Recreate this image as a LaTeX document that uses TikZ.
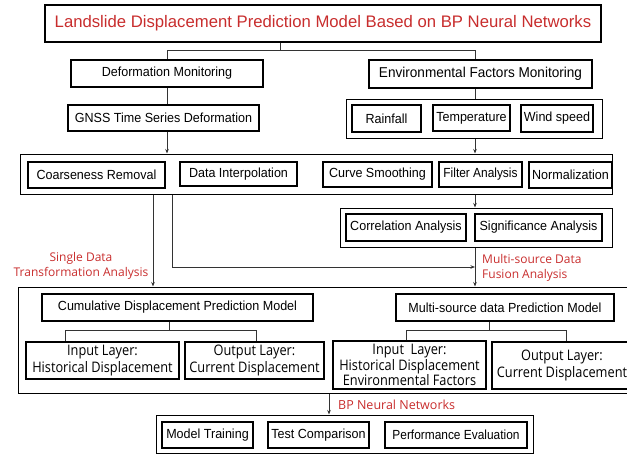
\documentclass[tikz,border=0pt]{standalone}
\usepackage{fontspec}
\usepackage{graphicx}
\setmainfont{Liberation Sans}
\newfontfamily\narrowf{Liberation Sans}[FakeStretch=0.95]
\newfontfamily\humf{Open Sans}[FakeStretch=0.88]
\newfontfamily\labf{Open Sans}
\usetikzlibrary{arrows.meta}
\definecolor{tred}{RGB}{200,45,45}
\begin{document}
\begin{tikzpicture}[x=1pt,y=-1pt,
  box/.style={draw, line width=1.3pt, inner sep=0pt, align=center, font=\narrowf\fontsize{13.2}{15}\selectfont},
  hbox/.style={draw, line width=1.3pt, inner sep=0pt, align=center, font=\humf\fontsize{14.5}{16.5}\selectfont},
  grp/.style={draw, line width=1pt},
  ln/.style={draw=black!80, line width=0.7pt},
  arr/.style={ln, -{Stealth[length=4.5pt,width=3.5pt]}},
  lbl/.style={text=tred, inner sep=0pt, font=\labf\fontsize{12}{15}\selectfont}]
\useasboundingbox (0,0) rectangle (627,455);
% group boxes
\node[grp, minimum width=256, minimum height=39] (envout) at (474,118.5) {};
\node[grp, minimum width=592, minimum height=40] (row) at (316,174) {};
\node[grp, minimum width=272, minimum height=39] (corrout) at (476,227.5) {};
\node[grp, minimum width=614, minimum height=106] (big) at (325,340) {};
\node[grp, minimum width=377, minimum height=38] (bottom) at (344.5,434) {};
% title
\node[draw, line width=1.3pt, minimum width=556, minimum height=37, text=tred, font=\fontsize{16.7}{19}\selectfont] (title) at (323,23.5) {Landslide Displacement Prediction Model Based on BP Neural Networks};
% level 1
\node[box, minimum width=192, minimum height=27] (defm) at (167,73.5) {Deformation Monitoring};
\node[box, minimum width=223, minimum height=28, font=\narrowf\fontsize{14.3}{16}\selectfont] (envm) at (480.5,74) {Environmental Factors Monitoring};
\node[box, minimum width=191, minimum height=26] (gnss) at (163.5,118) {GNSS Time Series Deformation};
\node[box, minimum width=69, minimum height=27] (rain) at (386.5,118.5) {Rainfall};
\node[box, minimum width=77, minimum height=26] (temp) at (471.5,118) {Temperature};
\node[box, minimum width=72, minimum height=27] (wind) at (557,118.5) {Wind speed};
% row
\node[box, minimum width=137, minimum height=26] (coarse) at (96.5,175) {Coarseness Removal};
\node[box, minimum width=117, minimum height=24] (interp) at (238.5,174) {Data Interpolation};
\node[box, minimum width=109, minimum height=25] (curve) at (377.5,174.5) {Curve Smoothing};
\node[box, minimum width=83, minimum height=25] (filter) at (480.5,174.5) {\scalebox{0.95}[1]{Filter Analysis}};
\node[box, minimum width=83, minimum height=26] (norm) at (570.5,175) {Normalization};
\node[box, minimum width=120, minimum height=27] (corr) at (406,227.5) {Correlation Analysis};
\node[box, minimum width=127, minimum height=27] (sig) at (538.5,227.5) {Significance Analysis};
% models
\node[box, minimum width=271, minimum height=27] (cum) at (177.5,307.5) {Cumulative Displacement Prediction Model};
\node[box, minimum width=218, minimum height=27] (msm) at (505,307.5) {Multi-source data Prediction Model};
\node[hbox, minimum width=153, minimum height=37] (in1) at (102.5,360.5) {Input Layer:\\Historical Displacement};
\node[hbox, minimum width=139, minimum height=37] (out1) at (254.5,360.5) {Output Layer:\\Current Displacement};
\node[hbox, minimum width=153, minimum height=48, font=\humf\fontsize{14.5}{14}\selectfont] (in2) at (409.5,365) {Input~ Layer:\\Historical Displacement\\Environmental Factors};
\node[hbox, minimum width=140, minimum height=47] (out2) at (562,365.5) {Output Layer:\\Current Displacement};
% bottom
\node[box, minimum width=91, minimum height=26] (train) at (207.5,435) {Model Training};
\node[box, minimum width=101, minimum height=26] (test) at (318.5,435) {Test Comparison};
\node[box, minimum width=142, minimum height=26] (perf) at (456,435) {\scalebox{0.95}[1]{Performance Evaluation}};
% coordinates
\coordinate (tj) at (280,50.5);
\coordinate (xr) at (475,0);
\coordinate (xa) at (153,0);
\coordinate (xb) at (172,267);
\coordinate (c1) at (65,330);
\coordinate (c2) at (256,330);
\coordinate (cj) at (169,330);
\coordinate (d1) at (406,330);
\coordinate (d2) at (566,330);
\coordinate (dj) at (489,330);
\coordinate (xm) at (329,0);
% connectors
\draw[ln] (title.south -| tj) -- (tj);
\draw[ln] (defm.north) -- (defm.north |- tj) -- (xr |- tj) -- (xr |- envm.north);
\draw[ln] (defm.south) -- (defm.south |- gnss.north);
\draw[ln] (xr |- envm.south) -- (xr |- envout.north);
\draw[arr] (defm.south |- gnss.south) -- (defm.south |- row.north);
\draw[arr] (xr |- envout.south) -- (xr |- row.north);
\draw[arr] (xr |- row.south) -- (xr |- corrout.north);
\draw[arr] (xr |- corrout.south) -- (xr |- big.north);
\draw[arr] (xa |- row.south) -- (xa |- big.north);
\draw[arr] (xb |- row.south) -- (xb) -- (xr |- xb);
\draw[ln] (cum.south -| cj) -- (cj);
\draw[ln] (c1 |- in1.north) -- (c1) -- (c2) -- (c2 |- out1.north);
\draw[ln] (msm.south -| dj) -- (dj);
\draw[ln] (d1 |- in2.north) -- (d1) -- (d2) -- (d2 |- out2.north);
\draw[arr] (xm |- big.south) -- (xm |- bottom.north);
% labels
\node[lbl, align=center] (lsingle) at (81,266) {Single Data\\Transformation Analysis};
\node[lbl, align=left, anchor=west] (lmulti) at (482,267.5) {Multi-source Data\\Fusion Analysis};
\node[lbl, anchor=west, font=\labf\fontsize{12.5}{15}\selectfont] (lbp) at (338,405) {BP Neural Networks};
\end{tikzpicture}
\end{document}
